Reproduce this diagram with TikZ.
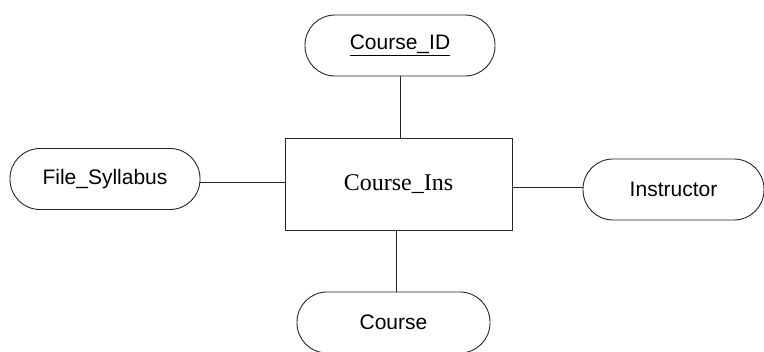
\documentclass[tikz,border=0pt]{standalone}
\usepackage{fontspec}
\setmainfont{Liberation Serif}
\newfontfamily\arialfont{Liberation Sans}
\begin{document}
\begin{tikzpicture}[x=1pt,y=-1pt,
  attr/.style={draw=black!85, line width=0.9pt, rounded corners=30pt, minimum height=61pt, inner sep=0pt,
    font=\arialfont\fontsize{21}{25}\selectfont},
  ent/.style={draw=black!85, line width=0.9pt, minimum width=227pt, minimum height=92pt, inner sep=0pt,
    font=\fontsize{24}{28}\selectfont},
  conn/.style={draw=black!85, line width=0.9pt}]
\useasboundingbox (0,0) rectangle (764,352);
\node[attr, minimum width=190pt] (cid) at (400,45.5) {\underline{Course\_ID}};
\node[ent] (ins) at (398.5,184) {\raisebox{-3pt}{Course\_Ins}};
\node[attr, minimum width=190pt] (fs) at (105,179) {\raisebox{-2pt}{File\_Syllabus}};
\node[attr, minimum width=181pt] (instr) at (673.5,189.5) {Instructor};
\node[attr, minimum width=193pt] (crs) at (393.5,322.5) {Course};
\draw[conn] (cid.south) -- (cid.south |- ins.north);
\draw[conn] ([yshift=2pt]ins.west) -- ([yshift=2pt]ins.west -| fs.east);
\draw[conn] ([yshift=-3pt]ins.east) -- ([yshift=-3pt]ins.east -| instr.west);
\draw[conn] ([xshift=-2.5pt]ins.south) -- ([xshift=-2.5pt]ins.south |- crs.north);
\end{tikzpicture}
\end{document}
